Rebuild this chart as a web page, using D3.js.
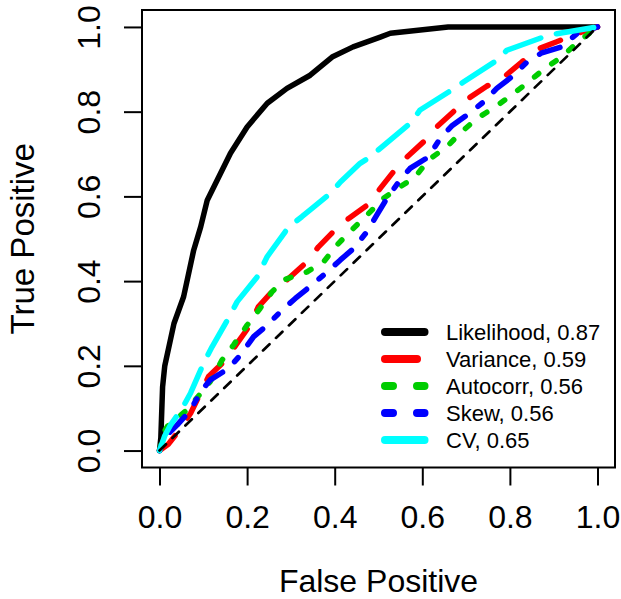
<!DOCTYPE html>
<html>
<head>
<meta charset="utf-8">
<script src="https://cdn.jsdelivr.net/npm/d3@7"></script>
<style>
  body { margin: 0; background: #fff; }
  text { font-family: "Liberation Sans", Arial, Helvetica, sans-serif; fill: #000; }
</style>
</head>
<body>
<svg></svg>
<script>
// ROC curves, [false positive, true positive]
let likelihood = [[0,0],[0.003,0.03],[0.007,0.15],[0.012,0.2],[0.033,0.3],[0.055,0.363],[0.078,0.473],[0.094,0.528],[0.109,0.591],[0.162,0.702],[0.2,0.764],[0.246,0.82],[0.291,0.855],[0.344,0.886],[0.394,0.929],[0.442,0.953],[0.504,0.976],[0.527,0.985],[0.659,1],[1,1]];
let variance = [[0,0],[0.02,0.015],[0.04,0.041],[0.071,0.088],[0.112,0.175],[0.151,0.214],[0.177,0.253],[0.204,0.292],[0.226,0.34],[0.257,0.375],[0.291,0.403],[0.333,0.442],[0.363,0.481],[0.397,0.517],[0.432,0.548],[0.474,0.579],[0.504,0.619],[0.534,0.658],[0.565,0.693],[0.603,0.729],[0.633,0.764],[0.671,0.8],[0.705,0.831],[0.747,0.86],[0.789,0.884],[0.827,0.917],[0.857,0.945],[0.907,0.965],[0.953,0.984],[1,1]];
let autocorr = [[0,0],[0.008,0.04],[0.018,0.057],[0.063,0.096],[0.116,0.163],[0.143,0.214],[0.169,0.249],[0.2,0.296],[0.23,0.336],[0.257,0.375],[0.287,0.404],[0.337,0.422],[0.375,0.446],[0.405,0.485],[0.439,0.521],[0.474,0.556],[0.511,0.595],[0.55,0.623],[0.584,0.646],[0.614,0.686],[0.656,0.717],[0.686,0.749],[0.725,0.784],[0.766,0.811],[0.804,0.839],[0.842,0.87],[0.88,0.902],[0.918,0.929],[0.956,0.965],[1,1]];
let skew = [[0,0],[0.01,0.03],[0.04,0.06],[0.071,0.096],[0.094,0.139],[0.116,0.167],[0.158,0.194],[0.185,0.226],[0.215,0.269],[0.246,0.296],[0.28,0.332],[0.31,0.359],[0.348,0.391],[0.379,0.418],[0.413,0.45],[0.443,0.477],[0.474,0.517],[0.496,0.556],[0.519,0.595],[0.546,0.634],[0.572,0.666],[0.614,0.693],[0.641,0.737],[0.667,0.766],[0.702,0.792],[0.74,0.823],[0.77,0.855],[0.804,0.882],[0.839,0.917],[0.873,0.939],[0.918,0.953],[0.953,0.984],[1,1]];
let cv = [[0,0],[0.012,0.035],[0.025,0.06],[0.052,0.1],[0.071,0.136],[0.101,0.207],[0.12,0.245],[0.162,0.321],[0.177,0.351],[0.223,0.41],[0.246,0.458],[0.295,0.528],[0.325,0.552],[0.344,0.568],[0.39,0.607],[0.413,0.634],[0.458,0.678],[0.481,0.693],[0.508,0.717],[0.572,0.772],[0.595,0.804],[0.667,0.851],[0.694,0.87],[0.77,0.921],[0.793,0.945],[0.876,0.976],[0.907,0.984],[1,1]];
let diagonal = [[0,0],[1,1]];

let seriesNames = ["Likelihood", "Variance", "Autocorr", "Skew", "CV"];
let aucValues = [0.87, 0.59, 0.56, 0.56, 0.65];
let tickValues = [0, 0.2, 0.4, 0.6, 0.8, 1.0];

let width = 621;
let height = 599;
let plotLeft = 142;
let plotRight = 615;
let plotTop = 10;
let plotBottom = 467.5;

let colors = ["#000000", "#ff0000", "#00cd00", "#0000ff", "#00ffff"];
// R line types: solid, dashed, dotted, dotdash, longdash
let ltys = [[], [4, 4], [1, 3], [1, 3, 4, 3], [7, 3]];

let svg = d3.select("svg").attr("width", width).attr("height", height);

let xScale = d3.scaleLinear().domain([-0.04, 1.04]).range([plotLeft, plotRight]);
let yScale = d3.scaleLinear().domain([-0.04, 1.04]).range([plotBottom, plotTop]);

let dash = (lty, unit) => lty.map(d => d * unit).join(",");

let line = d3.line()
  .x(d => xScale(d[0]))
  .y(d => yScale(d[1]));

// curves
let curves = [likelihood, variance, autocorr, skew, cv];
curves.forEach((c, i) => {
  svg.append("path")
    .datum(c)
    .attr("d", line)
    .attr("fill", "none")
    .attr("stroke", colors[i])
    .attr("stroke-width", 5.5)
    .attr("stroke-linecap", "round")
    .attr("stroke-linejoin", "round")
    .attr("stroke-dasharray", ltys[i].length ? dash(ltys[i], 5.4) : null);
});

svg.append("path")
  .datum(diagonal)
  .attr("d", line)
  .attr("fill", "none")
  .attr("stroke", "#000")
  .attr("stroke-width", 2.7)
  .attr("stroke-linecap", "round")
  .attr("stroke-dasharray", "9,9");

// box
svg.append("rect")
  .attr("x", plotLeft)
  .attr("y", plotTop)
  .attr("width", plotRight - plotLeft)
  .attr("height", plotBottom - plotTop)
  .attr("fill", "none")
  .attr("stroke", "#000")
  .attr("stroke-width", 2);

// axes
let xAxis = d3.axisBottom(xScale).tickValues(tickValues).tickSize(18).tickFormat(d3.format(".1f"));
let yAxis = d3.axisLeft(yScale).tickValues(tickValues).tickSize(18).tickFormat(d3.format(".1f"));

let gx = svg.append("g")
  .attr("transform", "translate(0, " + plotBottom + ")")
  .call(xAxis);
gx.select(".domain").remove();
gx.selectAll("line").attr("stroke-width", 2);
gx.selectAll("text")
  .attr("y", 528 - plotBottom)
  .attr("dy", 0)
  .style("font-size", "32px");

let gy = svg.append("g")
  .attr("transform", "translate(" + plotLeft + ", 0)")
  .call(yAxis);
gy.select(".domain").remove();
gy.selectAll("line").attr("stroke-width", 2);
gy.selectAll("text")
  .attr("transform", "rotate(-90)")
  .attr("text-anchor", "middle")
  .attr("x", 0)
  .attr("y", 100 - plotLeft)
  .attr("dy", 0)
  .style("font-size", "32px");
svg.selectAll(".tick text").attr("fill", "#000");

// axis titles
svg.append("text")
  .attr("x", (plotLeft + plotRight) / 2)
  .attr("y", 592)
  .attr("text-anchor", "middle")
  .style("font-size", "32px")
  .text("False Positive");

svg.append("text")
  .attr("transform", "translate(34, " + (plotTop + plotBottom) / 2 + ") rotate(-90)")
  .attr("text-anchor", "middle")
  .style("font-size", "33px")
  .text("True Positive");

// legend
let legend = svg.append("g");
seriesNames.forEach((name, i) => {
  let ly = 332 + i * 27;
  legend.append("line")
    .attr("x1", 385)
    .attr("x2", 424.5)
    .attr("y1", ly)
    .attr("y2", ly)
    .attr("stroke", colors[i])
    .attr("stroke-width", 8)
    .attr("stroke-linecap", "round")
    .attr("stroke-dasharray", ltys[i].length ? dash(ltys[i], 8) : null);
  legend.append("text")
    .attr("x", 446)
    .attr("y", ly + 8)
    .style("font-size", "22px")
    .text(name + ", " + aucValues[i]);
});
</script>
</body>
</html>
